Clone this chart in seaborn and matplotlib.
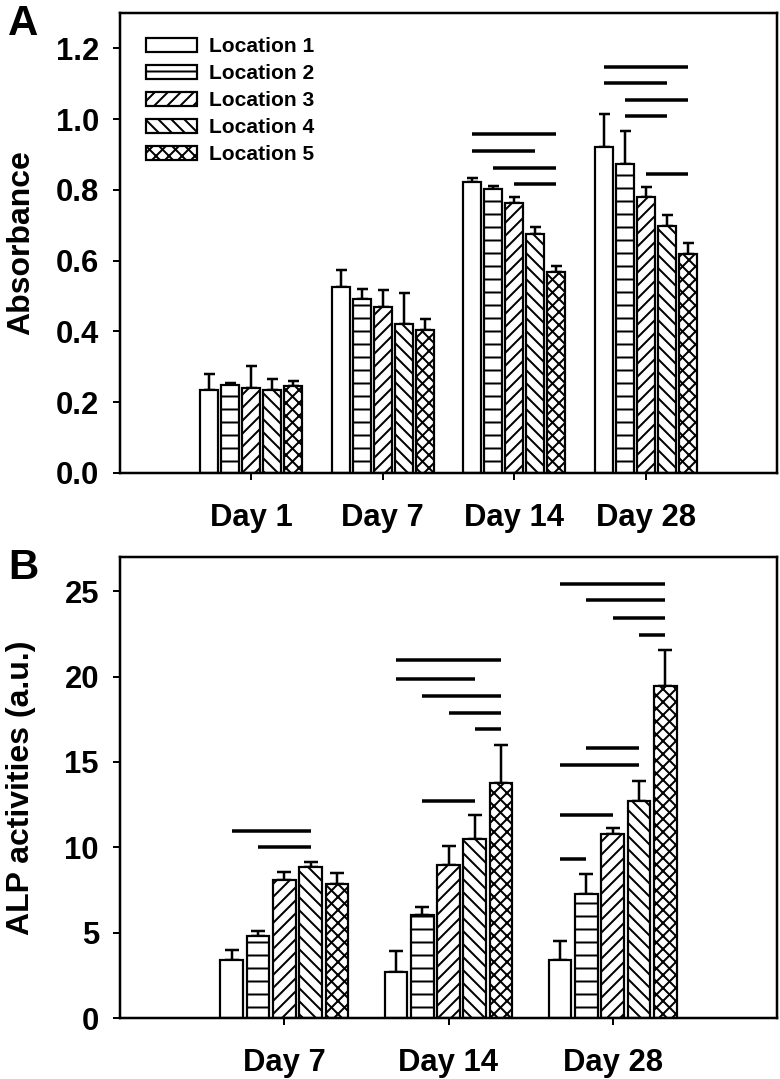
import matplotlib
matplotlib.use("Agg")
import matplotlib.pyplot as plt
import matplotlib.patches as mpatches
import seaborn as sns
import pandas as pd

DPI = 78


def px(v):
    # pixel size -> points at the output dpi
    return v * 72.0 / DPI


locations = ["Location 1", "Location 2", "Location 3", "Location 4", "Location 5"]
hatches = ["", "-", "//", "\\\\", "xx"]

# Panel A: absorbance
days_a = ["Day 1", "Day 7", "Day 14", "Day 28"]
abs_mean = {
    "Location 1": [0.234, 0.526, 0.823, 0.920],
    "Location 2": [0.250, 0.492, 0.802, 0.873],
    "Location 3": [0.241, 0.469, 0.762, 0.779],
    "Location 4": [0.235, 0.420, 0.675, 0.699],
    "Location 5": [0.245, 0.404, 0.568, 0.619],
}
abs_err = {
    "Location 1": [0.045, 0.047, 0.010, 0.094],
    "Location 2": [0.004, 0.028, 0.009, 0.094],
    "Location 3": [0.061, 0.049, 0.017, 0.029],
    "Location 4": [0.030, 0.089, 0.020, 0.031],
    "Location 5": [0.015, 0.032, 0.018, 0.031],
}
# significance bars: (day index, from location, to location, height)
sig_a = [
    (2, 0, 4, 0.957), (2, 0, 3, 0.910), (2, 1, 4, 0.861), (2, 2, 4, 0.816),
    (3, 0, 4, 1.147), (3, 0, 3, 1.101), (3, 1, 4, 1.054), (3, 1, 3, 1.008),
    (3, 2, 4, 0.846),
]

# Panel B: ALP activity
days_b = ["Day 7", "Day 14", "Day 28"]
alp_mean = {
    "Location 1": [3.41, 2.69, 3.41],
    "Location 2": [4.83, 6.03, 7.29],
    "Location 3": [8.08, 8.99, 10.77],
    "Location 4": [8.84, 10.48, 12.71],
    "Location 5": [7.87, 13.74, 19.42],
}
alp_err = {
    "Location 1": [0.58, 1.21, 1.12],
    "Location 2": [0.25, 0.48, 1.16],
    "Location 3": [0.47, 1.07, 0.35],
    "Location 4": [0.29, 1.42, 1.17],
    "Location 5": [0.60, 2.23, 2.13],
}
sig_b = [
    (0, 0, 3, 10.97), (0, 1, 3, 10.0),
    (1, 0, 4, 20.95), (1, 0, 3, 19.83), (1, 1, 4, 18.84), (1, 2, 4, 17.85),
    (1, 3, 4, 16.92), (1, 1, 3, 12.73),
    (2, 0, 4, 25.42), (2, 1, 4, 24.5), (2, 2, 4, 23.43), (2, 3, 4, 22.46),
    (2, 1, 3, 15.81), (2, 0, 3, 14.8), (2, 0, 2, 11.9), (2, 0, 1, 9.32),
]

sns.set_style("ticks")
plt.rcParams["font.family"] = ["Liberation Sans", "DejaVu Sans"]
plt.rcParams["font.weight"] = "bold"
plt.rcParams["hatch.linewidth"] = px(2.0)
for key in ["text.color", "axes.labelcolor", "xtick.color", "ytick.color",
            "axes.edgecolor"]:
    plt.rcParams[key] = "black"


def long_form(days, means):
    rows = []
    for loc in locations:
        for d, v in zip(days, means[loc]):
            rows.append({"day": d, "location": loc, "value": v})
    return pd.DataFrame(rows)


def draw_panel(ax, days, means, errs, sigs, ylim, yticks, ylabel, capsize):
    df = long_form(days, means)
    sns.barplot(data=df, x="day", y="value", hue="location", order=days,
                hue_order=locations, palette=["white"] * 5, errorbar=None,
                gap=0.14, edgecolor="black", linewidth=px(2.2), legend=False,
                ax=ax, zorder=2)
    for k, loc in enumerate(locations):
        cont = ax.containers[k]
        xs, ys = [], []
        for bar in cont:
            bar.set_hatch(hatches[k])
            xs.append(bar.get_x() + bar.get_width() / 2)
            ys.append(bar.get_height())
        ax.errorbar(xs, ys, yerr=[[0] * len(ys), errs[loc]], fmt="none",
                    ecolor="black", elinewidth=px(2.5), capsize=capsize,
                    capthick=px(2.5), zorder=1)
    for g, i, j, h in sigs:
        b1 = ax.containers[i][g]
        b2 = ax.containers[j][g]
        x1 = b1.get_x() + b1.get_width() / 2
        x2 = b2.get_x() + b2.get_width() / 2
        ax.plot([x1, x2], [h, h], color="black", lw=px(3.5),
                solid_capstyle="butt", zorder=3)
    ax.set_xlim(-1, len(days))
    ax.set_ylim(*ylim)
    ax.set_yticks(yticks)
    ax.set_xlabel("")
    ax.set_ylabel(ylabel, fontsize=px(32), fontweight="bold")
    ax.tick_params(axis="both", direction="out", length=px(7), width=px(2),
                   labelsize=px(31), top=False, right=False)
    ax.tick_params(axis="y", pad=px(14))
    ax.tick_params(axis="x", pad=px(23))
    for s in ax.spines.values():
        s.set_linewidth(px(2.5))
        s.set_visible(True)


fig = plt.figure(figsize=(780 / DPI, 1079 / DPI), dpi=DPI)
W, H = 780.0, 1079.0
ax_a = fig.add_axes([120 / W, 1 - 473 / H, 657 / W, 460 / H])
ax_b = fig.add_axes([120 / W, 1 - 1018 / H, 657 / W, 461 / H])

draw_panel(ax_a, days_a, abs_mean, abs_err, sig_a, (0, 1.3),
           [0.0, 0.2, 0.4, 0.6, 0.8, 1.0, 1.2], "Absorbance", px(5.5))
ax_a.set_yticklabels([f"{t:.1f}" for t in [0.0, 0.2, 0.4, 0.6, 0.8, 1.0, 1.2]])
draw_panel(ax_b, days_b, alp_mean, alp_err, sig_b, (0, 27),
           [0, 5, 10, 15, 20, 25], "ALP activities (a.u.)", px(7))

ax_a.yaxis.set_label_coords(-0.128, 0.5)
ax_b.yaxis.set_label_coords(-0.128, 0.5)

handles = [mpatches.Patch(facecolor="white", edgecolor="black",
                          linewidth=px(2.2), hatch=h) for h in hatches]
ax_a.legend(handles, locations, loc="upper left", frameon=False,
            prop={"size": px(21), "weight": "bold"},
            handlelength=2.4, handleheight=0.7, handletextpad=0.6,
            labelspacing=0.38, borderaxespad=0.0,
            bbox_to_anchor=(18 / 657, 1 - 16 / 460))

fig.text(8 / W, 1 - 4 / H, "A", fontsize=px(42), fontweight="bold",
         va="top", ha="left")
fig.text(8 / W, 1 - 548 / H, "B", fontsize=px(42), fontweight="bold",
         va="top", ha="left")

fig.savefig("out.png", dpi=DPI)
